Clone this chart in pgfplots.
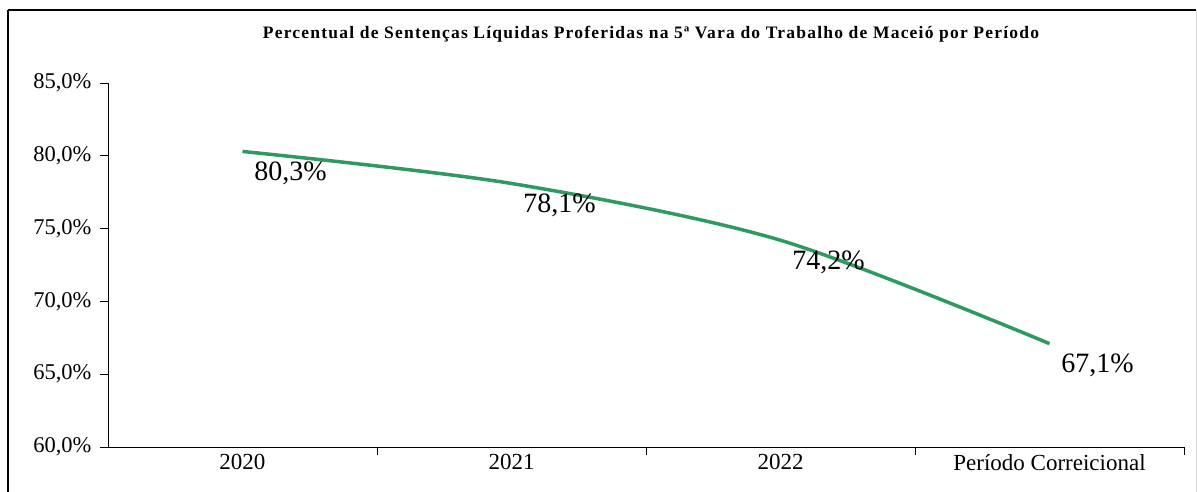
\documentclass[border=0pt]{standalone}
\usepackage{pgfplots}
\pgfplotsset{compat=1.18}
\usepackage{fontspec}
\setmainfont{Liberation Serif}
\newfontfamily\titlefont[LetterSpace=7]{Liberation Serif}
\definecolor{lgreen}{RGB}{46,154,98}
\begin{document}
\begin{tikzpicture}[x=1pt,y=1pt]
\clip (0,0) rectangle (1197,-491);
\path[use as bounding box] (0,0) rectangle (1197,-491);
\draw[line width=2pt, black] (8,-10) -- (1196,-10);
\draw[line width=2pt, black] (8,-10) -- (8,-500);
\draw[line width=1pt, black!15] (1196,-10) -- (1196,-500);
\node[font=\titlefont\fontsize{17.5}{20}\selectfont\bfseries] at (651,-34) {Percentual de Sentenças Líquidas Proferidas na 5ª Vara do Trabalho de Maceió por Período};
\begin{axis}[
  at={(108pt,-447pt)}, anchor=south west,
  scale only axis, width=1076pt, height=364pt,
  xmin=-0.5, xmax=3.5, ymin=60, ymax=85,
  axis lines*=left,
  axis line style={line width=1pt},
  xtick={0.5,1.5,2.5,3.5},
  xticklabels={},
  extra x ticks={0,1,2,3},
  extra x tick labels={2020,2021,2022,Período Correicional},
  extra x tick style={major tick length=0pt, xticklabel style={yshift=-4pt}},
  ytick={60,65,70,75,80,85},
  yticklabels={{60,0\%},{65,0\%},{70,0\%},{75,0\%},{80,0\%},{85,0\%}},
  tick align=outside, major tick length=8pt,
  ytick style={line width=1pt, black},
  xtick style={line width=1pt, black},
  xticklabel style={font=\fontsize{23}{27}\selectfont},
  yticklabel style={font=\fontsize{22.5}{26}\selectfont, xshift=-5pt},
  clip=false,
  nodes near coords={\pgfmathprintnumber[fixed,fixed zerofill,precision=1,use comma]{\pgfplotspointmeta}\%},
  every node near coord/.style={anchor=center, xshift=48pt, yshift=-22pt, font=\fontsize{28}{33}\selectfont, text=black},
  /pgf/number format/assume math mode=true,
]
\addplot[lgreen, line width=3.5pt, smooth, tension=0.5, mark=none] coordinates {
  (0,80.3) (1,78.1) (2,74.2) (3,67.1)
};
\end{axis}
\end{tikzpicture}
\end{document}
